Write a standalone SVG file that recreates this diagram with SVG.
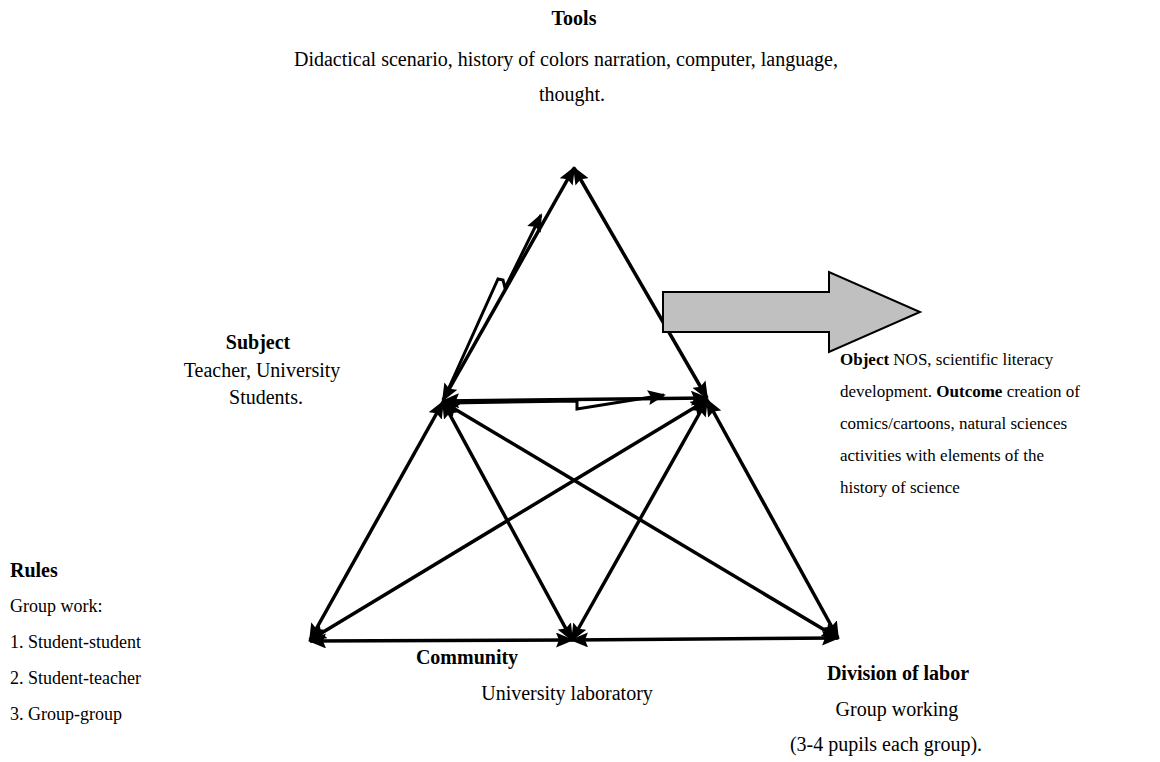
<svg xmlns="http://www.w3.org/2000/svg" width="1160" height="762" viewBox="0 0 1160 762">
<defs>
<marker id="ah" markerUnits="userSpaceOnUse" markerWidth="18" markerHeight="15" refX="16" refY="7.5" orient="auto-start-reverse">
<path d="M0,0 L18,7.5 L0,15 L3,7.5 z" fill="#000"/>
</marker>
</defs>
<style>
.t{font-family:"Liberation Serif","Times New Roman",serif;font-size:20px;fill:#000}
.b{font-weight:bold}
.s{font-size:17px}
.m{font-size:18px}
.e{fill:none;stroke:#000;stroke-width:3.5;marker-start:url(#ah);marker-end:url(#ah)}
.k{fill:none;stroke:#000;stroke-width:3;marker-end:url(#ah)}
</style>
<rect width="1160" height="762" fill="#fff"/>
<g id="connectors">
<line class="e" x1="574" y1="168" x2="443" y2="400"/>
<line class="e" x1="574" y1="168" x2="707" y2="398"/>
<line class="e" x1="443" y1="401" x2="707" y2="398"/>
<line class="e" x1="443" y1="402" x2="310" y2="640"/>
<line class="e" x1="443" y1="402" x2="572" y2="640"/>
<line class="e" x1="443" y1="402" x2="838" y2="638"/>
<line class="e" x1="707" y1="400" x2="310" y2="640"/>
<line class="e" x1="707" y1="400" x2="572" y2="640"/>
<line class="e" x1="707" y1="400" x2="838" y2="638"/>
<line class="e" x1="310" y1="641" x2="572" y2="640"/>
<line class="e" x1="572" y1="640" x2="838" y2="638"/>
<polyline class="k" points="447,392 498,279 503,280 505,288 541,215"/>
<polyline class="k" points="450,403 577,401 577,409 664,395"/>
</g>
<g id="object-arrow">
<path d="M663,292 H829 V272 L920,312 L829,352 V332 H663 Z" fill="#c0c0c0" stroke="#000" stroke-width="2"/>
</g>
<g id="tools">
<text class="t b" x="574" y="25" text-anchor="middle" font-size="21">Tools</text>
<text class="t" x="566" y="66" text-anchor="middle" font-size="20.4">Didactical scenario, history of colors narration, computer, language,</text>
<text class="t" x="572" y="101" text-anchor="middle">thought.</text>
</g>
<g id="subject">
<text class="t b" x="258" y="349" text-anchor="middle" font-size="21">Subject</text>
<text class="t" x="262" y="377" text-anchor="middle">Teacher, University</text>
<text class="t" x="266" y="404" text-anchor="middle">Students.</text>
</g>
<g id="object">
<text class="t s" x="840" y="365"><tspan class="b">Object</tspan> NOS, scientific literacy</text>
<text class="t s" x="840" y="397">development. <tspan class="b">Outcome</tspan> creation of</text>
<text class="t s" x="840" y="429">comics/cartoons, natural sciences</text>
<text class="t s" x="840" y="461">activities with elements of the</text>
<text class="t s" x="840" y="493">history of science</text>
</g>
<g id="rules">
<text class="t b" x="10" y="577">Rules</text>
<text class="t m" x="10" y="612">Group work:</text>
<text class="t m" x="10" y="648">1. Student-student</text>
<text class="t m" x="10" y="684">2. Student-teacher</text>
<text class="t m" x="10" y="720">3. Group-group</text>
</g>
<g id="community">
<text class="t b" x="467" y="664" text-anchor="middle" font-size="21">Community</text>
<text class="t" x="567" y="700" text-anchor="middle">University laboratory</text>
</g>
<g id="division">
<text class="t b" x="898" y="680" text-anchor="middle">Division of labor</text>
<text class="t" x="897" y="716" text-anchor="middle">Group working</text>
<text class="t" x="886" y="751" text-anchor="middle">(3-4 pupils each group).</text>
</g>
</svg>
